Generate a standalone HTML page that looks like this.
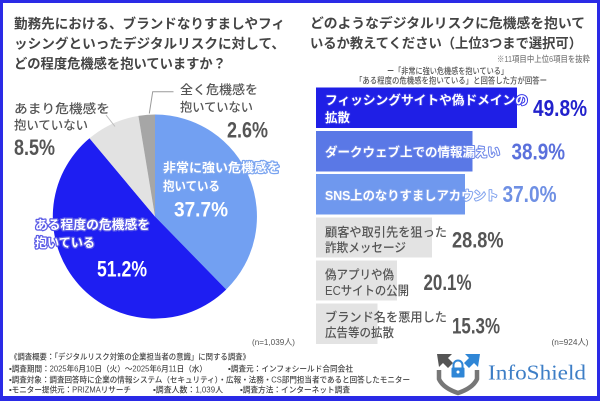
<!DOCTYPE html>
<html>
<head>
<meta charset="utf-8">
<style>
html,body{margin:0;padding:0;background:#fff;}
svg{display:block;}
.jp{font-family:"Liberation Sans","Noto Sans CJK JP",sans-serif;}
.num{font-family:"Liberation Sans",sans-serif;font-weight:bold;}
</style>
</head>
<body>
<svg width="600" height="401" viewBox="0 0 600 401" xmlns="http://www.w3.org/2000/svg">
<rect x="0" y="0" width="600" height="401" fill="#ffffff"/>

<!-- Left title -->
<g class="jp" font-size="13.5" font-weight="bold" fill="#444">
<text x="14" y="28.3" textLength="271" lengthAdjust="spacingAndGlyphs">勤務先における、ブランドなりすましやフィ</text>
<text x="14" y="48.3" textLength="271" lengthAdjust="spacingAndGlyphs">ッシングといったデジタルリスクに対して、</text>
<text x="14" y="68.3" textLength="212" lengthAdjust="spacingAndGlyphs">どの程度危機感を抱いていますか？</text>
</g>

<!-- Pie -->
<path d="M155 216.5 L155 114.5 A102 102 0 0 1 226.2 289.5 Z" fill="#72a0f2"/>
<path d="M155 216.5 L226.2 289.5 A102 102 0 1 1 89.5 138.3 Z" fill="#1e1ef2"/>
<path d="M155 216.5 L89.5 138.3 A102 102 0 0 1 138.4 115.9 Z" fill="#e2e2e2"/>
<path d="M155 216.5 L138.4 115.9 A102 102 0 0 1 155 114.5 Z" fill="#a6a6a6"/>

<!-- leader lines -->
<polyline points="149.3,113.5 152.7,91.7 173.5,91.7" fill="none" stroke="#9a9a9a" stroke-width="1"/>
<line x1="106" y1="115" x2="115" y2="126.5" stroke="#bdbdbd" stroke-width="1"/>

<!-- Pie labels -->
<g class="jp" font-size="12.5" font-weight="500" fill="#555">
<text x="180" y="93.8" textLength="78" lengthAdjust="spacingAndGlyphs">全く危機感を</text>
<text x="180" y="111.3" textLength="73" lengthAdjust="spacingAndGlyphs">抱いていない</text>
<text x="14" y="113" textLength="96" lengthAdjust="spacingAndGlyphs">あまり危機感を</text>
<text x="14" y="129.7" textLength="74" lengthAdjust="spacingAndGlyphs">抱いていない</text>
</g>
<text class="num" x="227" y="137.5" font-size="22" fill="#555" textLength="41" lengthAdjust="spacingAndGlyphs">2.6%</text>
<text class="num" x="14" y="155" font-size="22" fill="#555" textLength="41" lengthAdjust="spacingAndGlyphs">8.5%</text>

<g class="jp" font-size="12.5" font-weight="bold" fill="#fff" paint-order="stroke" stroke-linejoin="round">
<text x="163" y="172.2" textLength="117" lengthAdjust="spacingAndGlyphs" stroke="#7aa4f0" stroke-width="2.5">非常に強い危機感を</text>
<text x="163" y="190.5" textLength="57" lengthAdjust="spacingAndGlyphs" stroke="#7aa4f0" stroke-width="2.5">抱いている</text>
<text x="35" y="229.2" textLength="115" lengthAdjust="spacingAndGlyphs" stroke="#5a5ae6" stroke-width="2.5">ある程度の危機感を</text>
<text x="35" y="246.8" textLength="60" lengthAdjust="spacingAndGlyphs" stroke="#5a5ae6" stroke-width="2.5">抱いている</text>
</g>
<text class="num" x="174" y="216.7" font-size="21" fill="#fff" textLength="54" lengthAdjust="spacingAndGlyphs">37.7%</text>
<text class="num" x="97" y="276.7" font-size="22" fill="#fff" textLength="50" lengthAdjust="spacingAndGlyphs">51.2%</text>

<text class="jp" x="295" y="345" font-size="8.5" fill="#555" text-anchor="end" textLength="43" lengthAdjust="spacingAndGlyphs">(n=1,039人)</text>

<!-- Right title -->
<g class="jp" font-size="13.5" font-weight="bold" fill="#444">
<text x="310" y="27.8" textLength="275" lengthAdjust="spacingAndGlyphs">どのようなデジタルリスクに危機感を抱いて</text>
<text x="310" y="48" textLength="272" lengthAdjust="spacingAndGlyphs">いるか教えてください（上位3つまで選択可）</text>
</g>
<g class="jp" font-size="8.5" font-weight="500">
<text x="590" y="62" text-anchor="end" fill="#777" textLength="93" lengthAdjust="spacingAndGlyphs">※11項目中上位6項目を抜粋</text>
<text x="387" y="74" fill="#555" textLength="121" lengthAdjust="spacingAndGlyphs">ー「非常に強い危機感を抱いている」</text>
<text x="355" y="83.5" fill="#555" textLength="192" lengthAdjust="spacingAndGlyphs">「ある程度の危機感を抱いている」と回答した方が回答ー</text>
</g>

<!-- Bars -->
<rect x="316" y="87.5" width="201" height="40.5" fill="#1f1fe6"/>
<rect x="316" y="131" width="156.5" height="40.5" fill="#5a78e6"/>
<rect x="316" y="174" width="149" height="40.5" fill="#6f98ee"/>
<rect x="316" y="217.5" width="116" height="40" fill="#e3e3e3"/>
<rect x="316" y="260.5" width="81" height="40" fill="#e3e3e3"/>
<rect x="316" y="303.5" width="61.5" height="40.5" fill="#e3e3e3"/>

<g class="jp" font-size="12.5" font-weight="bold" fill="#fff" paint-order="stroke" stroke-linejoin="round">
<text x="325" y="104.7" textLength="203" lengthAdjust="spacingAndGlyphs" stroke="#3434e8" stroke-width="2">フィッシングサイトや偽ドメインの</text>
<text x="325" y="121.8" textLength="25" lengthAdjust="spacingAndGlyphs" stroke="#3434e8" stroke-width="2">拡散</text>
<text x="325" y="156.4" textLength="175" lengthAdjust="spacingAndGlyphs" stroke="#6a84e8" stroke-width="2">ダークウェブ上での情報漏えい</text>
<text x="325" y="199.8" textLength="173" lengthAdjust="spacingAndGlyphs" stroke="#80a2ee" stroke-width="2">SNS上のなりすましアカウント</text>
</g>
<g class="jp" font-size="12.5" font-weight="500" fill="#555">
<text x="325" y="236.4" textLength="122" lengthAdjust="spacingAndGlyphs">顧客や取引先を狙った</text>
<text x="325" y="252.2" textLength="81" lengthAdjust="spacingAndGlyphs">詐欺メッセージ</text>
<text x="325" y="278.8" textLength="69" lengthAdjust="spacingAndGlyphs">偽アプリや偽</text>
<text x="325" y="295.2" textLength="84" lengthAdjust="spacingAndGlyphs">ECサイトの公開</text>
<text x="325" y="321.4" textLength="122" lengthAdjust="spacingAndGlyphs">ブランド名を悪用した</text>
<text x="325" y="337.2" textLength="69" lengthAdjust="spacingAndGlyphs">広告等の拡散</text>
</g>

<text class="num" x="533" y="116" font-size="23" fill="#2222cc" textLength="54" lengthAdjust="spacingAndGlyphs">49.8%</text>
<text class="num" x="511.5" y="159.5" font-size="23" fill="#5a70dc" textLength="53.5" lengthAdjust="spacingAndGlyphs">38.9%</text>
<text class="num" x="502.5" y="201.8" font-size="23" fill="#6f90e4" textLength="54" lengthAdjust="spacingAndGlyphs">37.0%</text>
<text class="num" x="452" y="247.3" font-size="22" fill="#555" textLength="51.5" lengthAdjust="spacingAndGlyphs">28.8%</text>
<text class="num" x="423.5" y="290" font-size="22" fill="#555" textLength="48" lengthAdjust="spacingAndGlyphs">20.1%</text>
<text class="num" x="452" y="333.3" font-size="22" fill="#555" textLength="48" lengthAdjust="spacingAndGlyphs">15.3%</text>

<text class="jp" x="588.5" y="345" font-size="8.5" fill="#555" text-anchor="end" textLength="37" lengthAdjust="spacingAndGlyphs">(n=924人)</text>

<!-- Bottom notes -->
<g class="jp" font-size="8" font-weight="500" fill="#444">
<text x="10" y="359.7" textLength="240" lengthAdjust="spacingAndGlyphs">《調査概要：「デジタルリスク対策の企業担当者の意識」に関する調査》</text>
<text x="9" y="371.3" textLength="198" lengthAdjust="spacingAndGlyphs">▪調査期間：2025年6月10日（火）～2025年6月11日（水）</text>
<text x="228" y="371.3" textLength="125" lengthAdjust="spacingAndGlyphs">▪調査元：インフォシールド合同会社</text>
<text x="9" y="382.3" textLength="401" lengthAdjust="spacingAndGlyphs">▪調査対象：調査回答時に企業の情報システム（セキュリティ）・広報・法務・CS部門担当者であると回答したモニター</text>
<text x="9" y="392.4" textLength="122" lengthAdjust="spacingAndGlyphs">▪モニター提供元：PRIZMAリサーチ</text>
<text x="153" y="392.4" textLength="70" lengthAdjust="spacingAndGlyphs">▪調査人数：1,039人</text>
<text x="240" y="392.4" textLength="110" lengthAdjust="spacingAndGlyphs">▪調査方法：インターネット調査</text>
</g>

<!-- Logo -->
<g>
<path d="M437 354 L452 354 L448 358 L453 363 L448 368 L443 363 L439 367 Z" fill="#555"/>
<path d="M480 354 L465 354 L469 358 L464 363 L469 368 L474 363 L478 367 Z" fill="#2f86d6"/>
<path d="M439 370 L439 379 Q443 388 458 393 Q473 388 477 379 L477 370" fill="none" stroke="#777" stroke-width="4.5"/>
<path d="M453.5 368 v-3 a4.5 4.5 0 0 1 9 0 v3" fill="none" stroke="#2f86d6" stroke-width="2"/>
<rect x="451.5" y="367.5" width="13" height="10" rx="1" fill="#2f86d6"/>
<circle cx="458" cy="372" r="1.5" fill="#fff"/>
</g>
<text x="488" y="379.5" font-family="'Liberation Serif',serif" font-size="21" fill="#3d7ec6" textLength="98" lengthAdjust="spacingAndGlyphs">InfoShield</text>

<!-- Frame -->
<rect x="1.5" y="1.5" width="597" height="397" fill="none" stroke="#2a2ae6" stroke-width="3"/>
<rect x="0" y="396" width="600" height="5" fill="#2a2ae6"/>
</svg>
</body>
</html>
